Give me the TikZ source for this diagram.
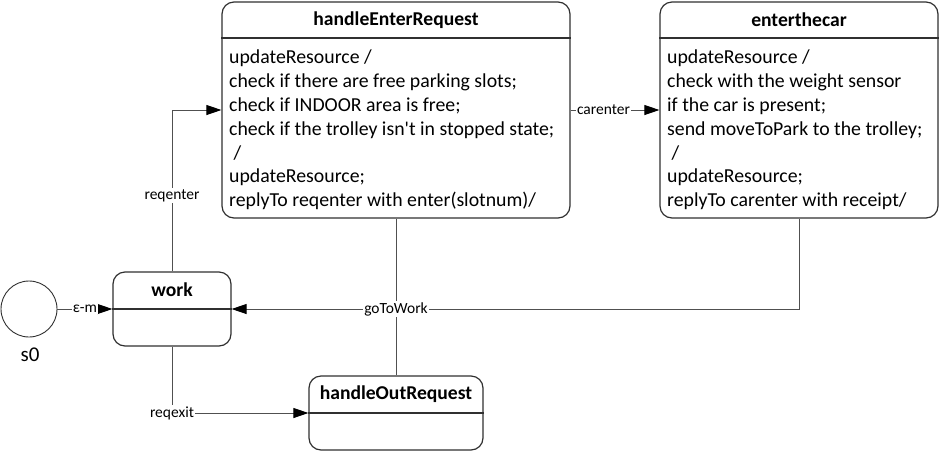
\documentclass[tikz,border=0pt]{standalone}
\usepackage{fontspec}
\setmainfont{Carlito}
\usetikzlibrary{arrows.meta}
\definecolor{boxline}{HTML}{303030}
\definecolor{edgeline}{HTML}{505050}
\begin{document}
\begin{tikzpicture}[x=1pt,y=-1pt,
  statebox/.style={draw=boxline,line width=1.2pt,rounded corners=12pt,fill=white,inner sep=0pt},
  titletext/.style={font=\fontsize{19.6}{22}\selectfont\bfseries,inner sep=0pt},
  bodytext/.style={font=\fontsize{19.8}{23.8}\selectfont,align=left,anchor=north west,inner sep=0pt},
  edge/.style={draw=edgeline,line width=0.9pt,-{Triangle[length=15pt,width=10pt,black]}},
  plain/.style={draw=edgeline,line width=0.9pt},
  elabel/.style={font=\fontsize{15.5}{17}\selectfont,fill=white,inner sep=1pt}]
\useasboundingbox (0,0) rectangle (940,451);
% states
\node[statebox,minimum width=348pt,minimum height=216pt] (her) at (396,110) {};
\node[statebox,minimum width=278pt,minimum height=216pt] (etc) at (799,110) {};
\node[statebox,minimum width=118pt,minimum height=74pt] (work) at (172,309) {};
\node[statebox,minimum width=174pt,minimum height=74pt] (hor) at (396,413) {};
\node[draw=boxline,line width=0.9pt,circle,minimum size=56pt,inner sep=0pt] (s0) at (29,309) {};
\node[font=\fontsize{21}{22}\selectfont,inner sep=0pt] (s0lab) at (30,355) {s0};
% separators
\draw[boxline,line width=1.2pt] (her.west |- 0,38) -- (her.east |- 0,38);
\draw[boxline,line width=1.2pt] (etc.west |- 0,38) -- (etc.east |- 0,38);
\draw[boxline,line width=1.2pt] (work.west) -- (work.east);
\draw[boxline,line width=1.2pt] (hor.west) -- (hor.east);
% titles
\node[titletext] (hert) at (396,20) {handleEnterRequest};
\node[titletext] (etct) at (799,20) {enterthecar};
\node[titletext] (workt) at (172,290) {work};
\node[titletext] (hort) at (396,394) {handleOutRequest};
% bodies
\node[bodytext] (herb) at (229,50) {updateResource /\\check if there are free parking slots;\\check if INDOOR area is free;\\check if the trolley isn\textquotesingle t in stopped state;\\\ /\\updateResource;\\replyTo reqenter with enter(slotnum)/};
\node[bodytext] (etcb) at (667,50) {updateResource /\\check with the weight sensor\\if the car is present;\\send moveToPark to the trolley;\\\ /\\updateResource;\\replyTo carenter with receipt/};
% connectors
\draw[edge] (s0) -- node[elabel] {ε-m} (work.west);
\draw[edge] (work.north) |- node[elabel,pos=0.235] {reqenter} (her.west);
\draw[edge] (her.east) -- node[elabel,pos=0.37] {carenter} (etc.west);
\draw[plain] (her.south) -- (her.south |- work.east);
\draw[plain] (hor.north) -- (hor.north |- work.east);
\draw[edge] (etc.south) |- (work.east);
\node[elabel] (gtw) at (her.south |- work.east) {goToWork};
\draw[edge] (work.south) |- node[elabel,pos=0.5] {reqexit} (hor.west);
\end{tikzpicture}
\end{document}
